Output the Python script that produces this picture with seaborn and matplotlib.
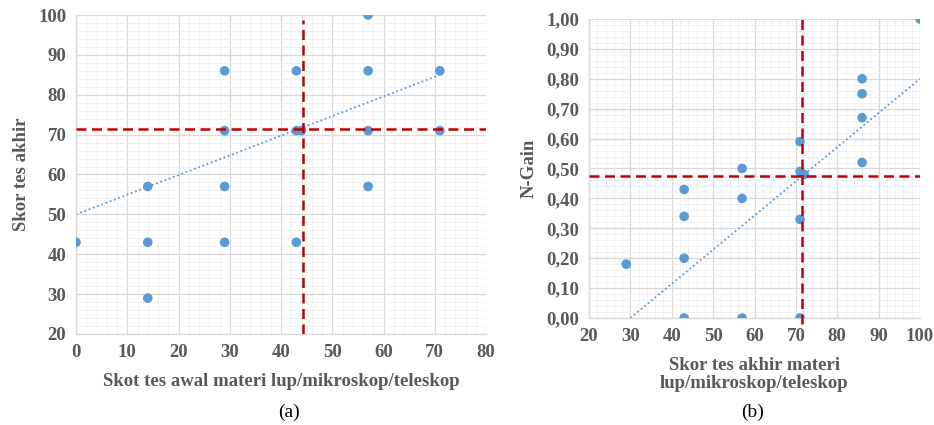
import matplotlib
matplotlib.use("Agg")
import matplotlib.pyplot as plt
import seaborn as sns
import numpy as np
import pandas as pd
from matplotlib.ticker import MultipleLocator, FuncFormatter

# ----------------------------
# Data
# ----------------------------
pre_a = [0, 14, 14, 14, 29, 29, 29, 29, 43, 43, 44, 43, 57, 57, 57, 57, 71, 71]
post_a = [43, 57, 43, 29, 86, 71, 57, 43, 86, 71, 71, 43, 100, 86, 71, 57, 86, 71]
mean_pre_a = 44.3
mean_post_a = 71.4

post_b = [29, 43, 43, 43, 43, 57, 57, 57, 71, 71, 72, 71, 71, 86, 86, 86, 86, 100]
gain_b = [0.18, 0.43, 0.34, 0.20, 0.00, 0.50, 0.40, 0.00, 0.59, 0.49, 0.48, 0.33, 0.00,
          0.80, 0.75, 0.67, 0.52, 1.00]
mean_post_b = 71.6
mean_gain_b = 0.475

# trend lines (start/end x, start/end y) as shown in the picture
trend_a_x = [0, 71]
trend_a_y = [50, 85]
trend_b_x = [30, 100]
trend_b_y = [0.0, 0.80]

df_a = pd.DataFrame({"pre": pre_a, "post": post_a})
df_b = pd.DataFrame({"post": post_b, "gain": gain_b})

sns.set_style("white")
plt.rcParams["font.family"] = ["Liberation Serif", "DejaVu Serif"]

dot = "#5B9BD5"
red = "#C00000"
txt = "#595959"
dash = (0, (4, 2.2))

fig = plt.figure(figsize=(9.34, 4.25), dpi=100)
ax1 = fig.add_axes([76 / 934, 1 - 334 / 425, 410 / 934, 319 / 425])
ax2 = fig.add_axes([589 / 934, 1 - 318 / 425, 331 / 934, 299 / 425])


def style(ax):
    ax.grid(which="major", color="#D9D9D9", lw=0.9)
    ax.grid(which="minor", color="#EFEFEF", lw=0.6)
    ax.set_axisbelow(True)
    for s in ["top", "right"]:
        ax.spines[s].set_visible(False)
    for s in ["left", "bottom"]:
        ax.spines[s].set_color("#D9D9D9")
        ax.spines[s].set_linewidth(1.0)
    ax.tick_params(which="major", length=4, color="#D9D9D9", labelsize=13.5,
                   labelcolor=txt, pad=3)
    ax.tick_params(which="minor", length=0)
    for lab in ax.get_xticklabels() + ax.get_yticklabels():
        lab.set_fontweight("bold")


# ----------------------------
# (a)
# ----------------------------
sns.scatterplot(data=df_a, x="pre", y="post", ax=ax1, color=dot, s=48,
                edgecolor="none", zorder=3)
ax1.plot(trend_a_x, trend_a_y, ls=(0, (1, 1.5)), color=dot, lw=1.3, zorder=2)
ax1.axvline(mean_pre_a, color=red, ls=dash, lw=1.8, ymax=0.985, zorder=4)
ax1.axhline(mean_post_a, color=red, ls=dash, lw=1.8, zorder=4)
ax1.set_xlim(0, 80)
ax1.set_ylim(20, 100)
ax1.xaxis.set_major_locator(MultipleLocator(10))
ax1.xaxis.set_minor_locator(MultipleLocator(2))
ax1.yaxis.set_major_locator(MultipleLocator(10))
ax1.yaxis.set_minor_locator(MultipleLocator(2))
style(ax1)
ax1.set_xlabel("Skot tes awal materi lup/mikroskop/teleskop", fontsize=13.5,
               fontweight="bold", color=txt, labelpad=9)
ax1.set_ylabel("Skor tes akhir", fontsize=13.5, fontweight="bold", color=txt,
               labelpad=6)

# ----------------------------
# (b)
# ----------------------------
sns.scatterplot(data=df_b, x="post", y="gain", ax=ax2, color=dot, s=48,
                edgecolor="none", zorder=3)
ax2.plot(trend_b_x, trend_b_y, ls=(0, (1, 1.5)), color=dot, lw=1.3, zorder=2)
ax2.axvline(mean_post_b, color=red, ls=dash, lw=1.8, ymin=-0.02, clip_on=False, zorder=4)
ax2.axhline(mean_gain_b, color=red, ls=dash, lw=1.8, zorder=4)
ax2.set_xlim(20, 100)
ax2.set_ylim(0, 1.0)
ax2.xaxis.set_major_locator(MultipleLocator(10))
ax2.xaxis.set_minor_locator(MultipleLocator(2))
ax2.yaxis.set_major_locator(MultipleLocator(0.1))
ax2.yaxis.set_minor_locator(MultipleLocator(0.02))
ax2.yaxis.set_major_formatter(FuncFormatter(lambda v, p: f"{v:.2f}".replace(".", ",")))
style(ax2)
ax2.set_xlabel("Skor tes akhir materi\nlup/mikroskop/teleskop", fontsize=13.5,
               fontweight="bold", color=txt, labelpad=9, linespacing=1.05)
ax2.set_ylabel("N-Gain", fontsize=13.5, fontweight="bold", color=txt, labelpad=6)

fig.text(0.309, 0.02, "(a)", ha="center", fontsize=14, color="black")
fig.text(0.806, 0.02, "(b)", ha="center", fontsize=14, color="black")

fig.savefig("out.png", dpi=100)
plt.close(fig)
